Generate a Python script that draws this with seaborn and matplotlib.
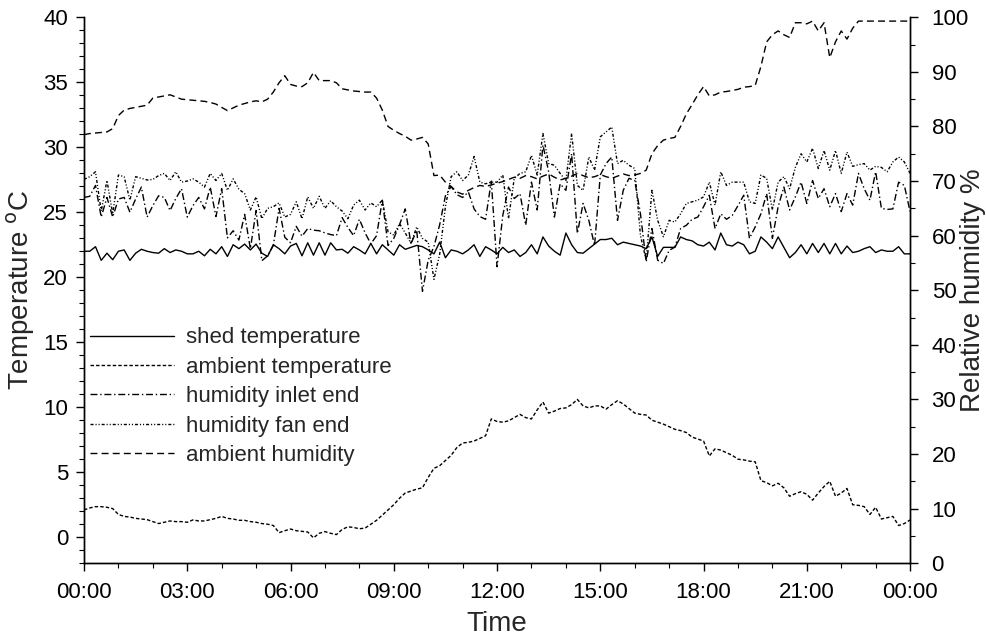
import numpy as np
import matplotlib
matplotlib.use("Agg")
import matplotlib.pyplot as plt
from matplotlib.ticker import MultipleLocator, FuncFormatter
import seaborn as sns

# readings every 10 minutes, one row per hour, last value is 24:00
shed_temp = [
    22.0, 22.0, 22.35, 21.3, 21.85, 21.35,
    22.0, 22.1, 21.3, 21.85, 22.15, 22.0,
    21.9, 21.85, 22.2, 21.9, 22.1, 22.0,
    21.8, 21.8, 22.0, 21.65, 22.15, 21.8,
    22.35, 21.6, 22.5, 22.2, 22.55, 22.1,
    22.55, 21.85, 21.6, 22.5, 22.2, 21.8,
    22.4, 22.6, 21.65, 22.65, 21.7, 22.65,
    21.7, 22.65, 22.1, 22.15, 21.85, 22.35,
    22.1, 21.8, 22.6, 21.8, 22.5, 22.1,
    21.7, 22.5, 22.15, 22.3, 22.45, 22.35,
    22.1, 21.8, 22.7, 21.5, 22.1, 22.0,
    21.8, 22.1, 22.5, 21.6, 22.35, 22.1,
    21.8, 22.3, 21.9, 22.1, 21.6, 21.9,
    22.5, 21.8, 23.1, 22.4, 22.0, 21.7,
    23.4, 22.5, 21.9, 21.85, 22.2, 22.55,
    22.9, 22.9, 23.0, 22.5, 22.7, 22.6,
    22.5, 22.4, 22.2, 23.1, 21.6, 22.3,
    22.3, 22.3, 23.1, 22.9, 22.8, 22.5,
    22.4, 22.7, 22.1, 23.4, 22.5, 22.4,
    22.7, 22.5, 21.8, 22.0, 23.1, 22.7,
    22.2, 23.1, 22.3, 21.5, 21.9, 22.5,
    21.8, 22.6, 21.9, 22.6, 21.8, 22.6,
    21.8, 22.4, 21.9, 22.0, 22.2, 22.35,
    21.9, 22.1, 22.0, 22.0, 22.35, 21.8,
    21.8,
]

ambient_temp = [
    2.1, 2.25, 2.35, 2.35, 2.3, 2.2,
    1.75, 1.6, 1.55, 1.45, 1.4, 1.35,
    1.2, 1.05, 1.15, 1.25, 1.2, 1.2,
    1.15, 1.33, 1.25, 1.25, 1.35, 1.45,
    1.6, 1.45, 1.4, 1.3, 1.3, 1.2,
    1.15, 1.05, 1.0, 0.9, 0.35, 0.5,
    0.63, 0.5, 0.45, 0.4, -0.05, 0.3,
    0.43, 0.3, 0.2, 0.6, 0.8, 0.75,
    0.65, 0.7, 1.0, 1.3, 1.7, 2.1,
    2.5, 3.0, 3.4, 3.55, 3.7, 3.8,
    4.6, 5.3, 5.5, 5.9, 6.3, 6.9,
    7.25, 7.3, 7.4, 7.6, 7.8, 9.1,
    8.9, 8.85, 8.95, 9.2, 9.45, 9.2,
    9.1, 9.8, 10.4, 9.55, 9.7, 9.9,
    9.95, 10.2, 10.6, 10.1, 9.95, 10.1,
    10.1, 9.85, 10.2, 10.5, 10.25, 9.9,
    9.55, 9.45, 9.4, 9.0, 8.85, 8.7,
    8.5, 8.3, 8.2, 8.05, 7.7, 7.55,
    7.4, 6.25, 6.8, 6.7, 6.5, 6.3,
    6.0, 5.95, 5.85, 5.8, 4.35, 4.2,
    3.95, 4.15, 3.8, 3.15, 3.35, 3.5,
    3.3, 2.85, 3.4, 3.9, 4.3, 3.15,
    3.4, 3.75, 2.5, 2.45, 2.35, 1.75,
    2.3, 1.4, 1.5, 1.6, 0.9, 1.05,
    1.33,
]

hum_inlet = [
    67.0, 67.2, 69.2, 63.4, 67.0, 63.4,
    66.7, 67.0, 64.3, 66.7, 68.9, 63.4,
    65.5, 67.3, 67.0, 64.6, 66.8, 68.6,
    63.4, 65.5, 67.0, 64.9, 68.9, 63.5,
    68.6, 59.6, 60.9, 59.2, 63.9, 57.6,
    64.6, 55.4, 56.3, 58.2, 65.0, 59.7,
    58.7, 61.7, 59.9, 61.3, 61.0, 60.9,
    60.5, 60.2, 60.0, 63.3, 61.5, 60.0,
    63.0, 60.5, 58.5, 60.0, 66.5, 58.2,
    59.5, 62.0, 64.9, 58.5, 61.0, 49.8,
    55.5, 58.0, 62.0, 67.3, 69.0, 67.5,
    67.0, 68.0, 64.9, 63.5, 63.0, 70.0,
    54.3, 63.7, 68.9, 66.8, 67.7, 61.9,
    69.8, 64.7, 76.6, 71.7, 63.4, 69.5,
    68.3, 75.0, 60.4, 65.9, 62.8, 58.2,
    71.1, 73.2, 74.4, 62.8, 68.3, 70.5,
    70.1, 64.0, 55.2, 61.3, 55.5, 54.9,
    57.3, 57.9, 61.3, 61.9, 63.0, 63.4,
    65.3, 67.4, 61.3, 64.0, 63.0, 63.7,
    65.5, 67.4, 59.5, 61.6, 64.0, 67.7,
    59.5, 65.3, 68.9, 64.7, 67.1, 69.8,
    65.9, 70.1, 66.8, 68.6, 65.3, 67.7,
    64.4, 67.7, 65.6, 71.4, 68.6, 66.5,
    71.7, 65.0, 64.8, 64.9, 69.8, 69.2,
    64.4,
]

hum_fan = [
    70.3, 70.8, 71.7, 64.5, 70.1, 64.0,
    71.1, 70.8, 66.5, 70.8, 70.5, 70.2,
    70.3, 71.0, 71.4, 70.1, 71.7, 69.8,
    70.0, 70.4, 69.8, 68.9, 71.4, 70.1,
    71.4, 68.3, 70.4, 68.5, 67.7, 64.7,
    67.1, 63.1, 65.0, 65.3, 66.0, 63.4,
    63.9, 66.2, 63.1, 67.1, 65.0, 67.2,
    65.0, 66.4, 65.3, 64.5, 63.1, 65.6,
    66.5, 64.7, 66.0, 65.3, 66.5, 60.7,
    60.1, 62.2, 60.5, 58.6, 61.6, 59.5,
    58.8, 52.0, 56.6, 65.3, 70.8, 71.7,
    70.1, 71.1, 74.5, 69.8, 69.5, 69.8,
    69.8, 71.1, 63.1, 70.5, 71.4, 71.7,
    74.7, 71.1, 78.7, 73.2, 72.9, 71.4,
    70.1, 78.7, 69.2, 68.3, 74.4, 72.0,
    78.1, 79.0, 79.9, 73.2, 73.8, 72.9,
    72.3, 60.0, 55.5, 68.3, 62.8, 59.8,
    62.8, 62.5, 64.0, 65.9, 66.2, 66.5,
    67.1, 69.8, 65.6, 71.7, 69.2, 69.8,
    69.8, 69.8, 66.2, 65.9, 71.1, 70.5,
    64.7, 69.8, 70.8, 68.6, 72.5, 75.0,
    73.5, 76.0, 72.3, 75.6, 72.0, 75.6,
    71.4, 75.3, 72.7, 73.0, 73.2, 72.0,
    72.7, 72.5, 71.7, 73.5, 74.4, 73.5,
    71.4,
]

ambient_hum = [
    78.5, 78.7, 78.8, 78.9, 79.0, 79.6,
    82.0, 83.0, 83.3, 83.5, 83.7, 83.9,
    85.2, 85.4, 85.6, 85.8, 85.4, 85.0,
    84.9, 84.8, 84.7, 84.6, 84.4, 84.1,
    83.5, 82.9, 83.4, 83.9, 84.2, 84.5,
    84.7, 84.5, 85.0, 86.3, 88.0, 89.3,
    87.7, 87.4, 87.3, 88.0, 89.9, 88.4,
    88.4, 88.4, 88.0, 86.9, 86.7, 86.5,
    86.4, 86.3, 86.3, 85.2, 83.0, 80.0,
    79.3, 78.7, 78.2, 77.5, 77.7, 78.0,
    76.8, 71.0, 71.1, 69.8, 69.0, 68.0,
    67.6, 68.3, 68.8, 69.2, 69.0, 69.3,
    69.6, 69.9, 70.3, 70.7, 70.5, 71.0,
    70.8, 70.4, 70.9, 71.3, 70.7, 70.2,
    70.5, 70.9, 71.4, 71.0, 70.6, 70.8,
    71.2, 70.8, 70.5, 70.9, 71.3, 71.0,
    71.1, 71.4, 72.0, 75.0, 76.5, 77.5,
    77.8, 78.0, 80.0, 82.3, 84.0, 85.8,
    87.3, 85.6, 85.8, 86.3, 86.4, 86.6,
    86.8, 87.2, 87.3, 87.5, 91.0, 95.5,
    96.8, 97.5, 96.8, 96.3, 99.0, 99.0,
    98.8, 99.3, 97.5, 99.0, 92.6, 95.5,
    97.5, 96.0, 98.0, 99.3, 99.3, 99.3,
    99.3, 99.3, 99.3, 99.3, 99.3, 99.3,
    99.3,
]

time_ticks = [0, 3, 6, 9, 12, 15, 18, 21, 24]
hours = np.arange(len(shed_temp)) / 6.0

sns.set_style("ticks")
plt.rcParams["font.family"] = ["Liberation Sans", "DejaVu Sans"]
plt.rcParams["xtick.direction"] = "out"
plt.rcParams["ytick.direction"] = "out"

fig, ax = plt.subplots(figsize=(9.86, 6.4), dpi=100)
fig.subplots_adjust(left=0.0852, right=0.923, bottom=0.12, top=0.973)
ax2 = ax.twinx()

sns.lineplot(x=hours, y=shed_temp, ax=ax, color="black", lw=1.0,
             label="shed temperature")
sns.lineplot(x=hours, y=ambient_temp, ax=ax, color="black", lw=1.0,
             linestyle=(0, (2.5, 1.5)), label="ambient temperature")
sns.lineplot(x=hours, y=hum_inlet, ax=ax2, color="black", lw=1.0,
             linestyle=(0, (5, 2, 1, 2)), label="humidity inlet end")
sns.lineplot(x=hours, y=hum_fan, ax=ax2, color="black", lw=1.0,
             linestyle=(0, (2.2, 1.4, 0.8, 1.4, 0.8, 1.4)), label="humidity fan end")
sns.lineplot(x=hours, y=ambient_hum, ax=ax2, color="black", lw=1.0,
             linestyle=(0, (5, 3)), label="ambient humidity")

ax.set_xlim(0, 24)
ax.set_ylim(-2, 40)
ax2.set_ylim(0, 100)

ax.set_xticks(time_ticks)
ax.xaxis.set_minor_locator(MultipleLocator(1))
ax.xaxis.set_major_formatter(FuncFormatter(lambda v, p: "%02d:00" % (int(round(v)) % 24)))
ax.yaxis.set_major_locator(MultipleLocator(5))
ax.yaxis.set_minor_locator(MultipleLocator(1))
ax2.yaxis.set_major_locator(MultipleLocator(10))
ax2.yaxis.set_minor_locator(MultipleLocator(5))

for a in (ax, ax2):
    a.spines["top"].set_visible(False)
    for s in a.spines.values():
        s.set_linewidth(1.0)
        s.set_color("black")
    a.tick_params(which="major", length=5.5, width=1.0, labelsize=16,
                  colors="black", pad=6)
    a.tick_params(which="minor", length=3.5, width=0.8, colors="black")
    a.grid(False)
ax.tick_params(axis="x", which="major", pad=8)
ax2.tick_params(axis="y", which="major", pad=10)

ax.set_xlabel("Time", fontsize=20, labelpad=6)
ax.set_ylabel(r"Temperature $^{\mathrm{o}}$C", fontsize=20,
              rotation=90, ha="center", va="center", rotation_mode="default")
ax.yaxis.set_label_coords(-0.076, 0.5)
ax2.set_ylabel("Relative humidity %", fontsize=20,
               rotation=90, ha="center", va="center", rotation_mode="default")
ax2.yaxis.set_label_coords(1.076, 0.5)

h1, l1 = ax.get_legend_handles_labels()
h2, l2 = ax2.get_legend_handles_labels()
if ax.get_legend() is not None:
    ax.get_legend().remove()
if ax2.get_legend() is not None:
    ax2.get_legend().remove()
ax2.legend(h1 + h2, l1 + l2, loc="upper left", bbox_to_anchor=(0.007, 0.432),
           frameon=False, fontsize=16, handlelength=3.8, handletextpad=0.55,
           labelspacing=0.38, borderaxespad=0, borderpad=0)

fig.savefig("out.png", dpi=100)
